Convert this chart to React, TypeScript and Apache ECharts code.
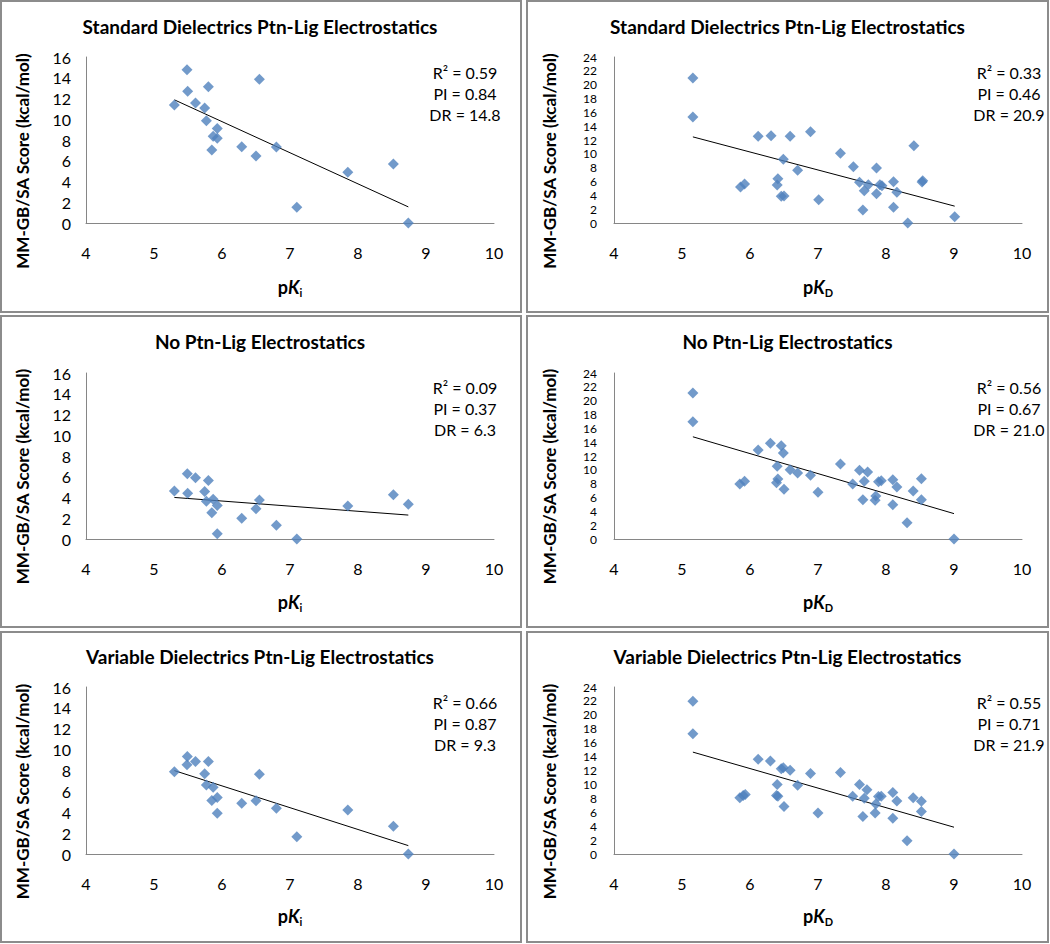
import React, { useEffect, useRef } from 'react';
import * as echarts from 'echarts';

const FONT = 'Lato, "Noto Sans", sans-serif';
const BLUE = '#4F81BD';

// Titles
const titles = [
  'Standard Dielectrics Ptn-Lig Electrostatics',
  'Standard Dielectrics Ptn-Lig Electrostatics',
  'No Ptn-Lig Electrostatics',
  'No Ptn-Lig Electrostatics',
  'Variable Dielectrics Ptn-Lig Electrostatics',
  'Variable Dielectrics Ptn-Lig Electrostatics',
];

// Statistics text per panel
const statsR2 = ['0.59', '0.33', '0.09', '0.56', '0.66', '0.55'];
const statsPI = ['0.84', '0.46', '0.37', '0.67', '0.87', '0.71'];
const statsDR = ['14.8', '20.9', '6.3', '21.0', '9.3', '21.9'];

// Axis ticks
const xTickMin = 4, xTickMax = 10, xTickStep = 1;
const yMaxKi = 16, yMaxKD = 24, yTickStep = 2;

// Panel 1: Standard dielectrics, pKi
const stdKiX = [5.30, 5.485, 5.495, 5.61, 5.80, 5.745, 5.77, 5.93, 5.87, 5.93, 5.85, 6.29, 6.50, 6.55, 6.80, 7.85, 8.52, 7.10, 8.74];
const stdKiY = [11.37, 14.78, 12.69, 11.57, 13.14, 11.08, 9.86, 9.12, 8.35, 8.16, 7.04, 7.36, 6.46, 13.85, 7.33, 4.88, 5.69, 1.51, 0];

// Panel 2: Standard dielectrics, pKD
const stdKdX = [5.16, 5.16, 5.86, 5.92, 6.12, 6.31, 6.40, 6.41, 6.49, 6.46, 6.50, 6.59, 6.70, 6.89, 7.01, 7.33, 7.52, 7.61, 7.68, 7.74, 7.66, 7.86, 7.86, 7.91, 7.94, 8.11, 8.11, 8.16, 8.32, 8.41, 8.53, 8.54, 9.01];
const stdKdY = [20.96, 15.33, 5.20, 5.64, 12.53, 12.63, 5.49, 6.41, 9.20, 3.86, 3.90, 12.53, 7.61, 13.20, 3.37, 10.07, 8.14, 5.88, 4.67, 5.54, 1.88, 7.95, 4.24, 5.54, 5.40, 5.98, 2.27, 4.43, 0, 11.18, 5.93, 6.12, 0.92];

// Panel 3: No electrostatics, pKi
const noKiX = [5.30, 5.49, 5.495, 5.61, 5.80, 5.745, 5.77, 5.87, 5.93, 5.85, 5.93, 6.29, 6.50, 6.55, 6.80, 7.10, 7.85, 8.52, 8.74];
const noKiY = [4.63, 6.30, 4.40, 5.91, 5.65, 4.59, 3.63, 3.82, 3.24, 2.54, 0.51, 1.99, 2.92, 3.76, 1.32, 0, 3.18, 4.27, 3.34];

// Panel 4: No electrostatics, pKD
const noKdX = [5.16, 5.16, 5.85, 5.92, 6.12, 6.30, 6.46, 6.49, 6.40, 6.41, 6.39, 6.50, 6.59, 6.70, 6.89, 7.00, 7.33, 7.51, 7.61, 7.68, 7.73, 7.66, 7.85, 7.84, 7.89, 7.93, 8.10, 8.16, 8.10, 8.31, 8.40, 8.52, 8.52, 9.00];
const noKdY = [21.11, 16.96, 7.95, 8.34, 12.87, 13.83, 13.49, 12.43, 10.51, 8.67, 8.14, 7.18, 10.02, 9.54, 9.20, 6.75, 10.84, 7.95, 9.93, 8.34, 9.69, 5.69, 6.22, 5.59, 8.29, 8.43, 8.58, 7.52, 4.96, 2.36, 6.94, 8.72, 5.69, 0];

// Panel 5: Variable dielectrics, pKi
const varKiX = [5.30, 5.49, 5.485, 5.61, 5.80, 5.745, 5.77, 5.87, 5.93, 5.85, 5.93, 6.29, 6.50, 6.55, 6.80, 7.10, 7.85, 8.52, 8.74];
const varKiY = [7.87, 9.34, 8.54, 8.86, 8.86, 7.68, 6.62, 6.40, 5.41, 5.12, 3.90, 4.86, 5.09, 7.65, 4.38, 1.66, 4.22, 2.66, 0];

// Panel 6: Variable dielectrics, pKD
const varKdX = [5.16, 5.16, 5.85, 5.90, 5.93, 6.12, 6.30, 6.46, 6.49, 6.59, 6.40, 6.39, 6.41, 6.50, 6.70, 6.89, 7.00, 7.33, 7.51, 7.61, 7.68, 7.72, 7.66, 7.85, 7.84, 7.89, 7.93, 8.10, 8.16, 8.10, 8.31, 8.40, 8.52, 8.52, 9.00];
const varKdY = [21.94, 17.28, 8.07, 8.40, 8.55, 13.63, 13.35, 12.24, 12.39, 12.05, 9.99, 8.40, 8.31, 6.82, 9.89, 11.57, 5.90, 11.71, 8.31, 9.99, 8.02, 9.22, 5.38, 7.20, 5.90, 8.26, 8.31, 8.83, 7.63, 5.14, 1.92, 8.07, 7.59, 6.10, 0];

const panelXs = [stdKiX, stdKdX, noKiX, noKdX, varKiX, varKdX];
const panelYs = [stdKiY, stdKdY, noKiY, noKdY, varKiY, varKdY];
const yMaxes = [yMaxKi, yMaxKD, yMaxKi, yMaxKD, yMaxKi, yMaxKD];
const subs = ['i', 'D', 'i', 'D', 'i', 'D'];

// Layout (pixels)
const colGridLeft = [86, 614];
const gridWidth = 408;
const rowGridTop = [57, 373, 687];
const rowGridHeight = [166, 166, 167];
const panelRectX = [1, 527];
const panelRectW = [520, 521];
const panelRectY = [1, 316, 632];
const panelRectH = [311, 311, 310];
const titleCX = [260, 787.5];
const titleCY = [26, 341, 656];
const yNameCX = [22, 549];
const yNameCY = [161, 476.5, 791.5];
const xNameCX = [290, 818];
const xNameCY = [286.5, 601.5, 916];
const statsCX = [465, 1009];
const statsCY = [93, 408.5, 723.5];

function fit(xs: number[], ys: number[]) {
  const n = xs.length;
  let sx = 0, sy = 0;
  for (let i = 0; i < n; i++) { sx += xs[i]; sy += ys[i]; }
  const mx = sx / n, my = sy / n;
  let sxy = 0, sxx = 0;
  for (let i = 0; i < n; i++) { sxy += (xs[i] - mx) * (ys[i] - my); sxx += (xs[i] - mx) ** 2; }
  const b = sxy / sxx;
  const a = my - b * mx;
  const x0 = Math.min(...xs), x1 = Math.max(...xs);
  return [[x0, a + b * x0], [x1, a + b * x1]];
}

export default function App() {
  const ref = useRef<HTMLDivElement>(null);
  useEffect(() => {
    if (!ref.current) return;
    const chart = echarts.init(ref.current, null, { renderer: 'svg' });
    const grid: any[] = [];
    const xAxis: any[] = [];
    const yAxis: any[] = [];
    const series: any[] = [];
    const graphic: any[] = [];
    for (let p = 0; p < 6; p++) {
      const col = p % 2;
      const row = Math.floor(p / 2);
      grid.push({ left: colGridLeft[col], top: rowGridTop[row], width: gridWidth, height: rowGridHeight[row] });
      xAxis.push({
        type: 'value', gridIndex: p, min: xTickMin, max: xTickMax, interval: xTickStep,
        splitLine: { show: false }, axisTick: { show: false },
        axisLine: { show: true, onZero: false, lineStyle: { color: '#868686', width: 1 } },
        axisLabel: { color: '#000', fontFamily: FONT, fontSize: 16, margin: 21 },
      });
      yAxis.push({
        type: 'value', gridIndex: p, min: 0, max: yMaxes[p], interval: yTickStep,
        splitLine: { show: false }, axisTick: { show: false },
        axisLine: { show: true, onZero: false, lineStyle: { color: '#868686', width: 1 } },
        axisLabel: col === 0
          ? { color: '#000', fontFamily: FONT, fontSize: 16, margin: 15 }
          : { color: '#000', fontFamily: FONT, fontSize: 12, lineHeight: 12, margin: 17 },
      });
      const xs = panelXs[p], ys = panelYs[p];
      series.push({
        type: 'scatter', xAxisIndex: p, yAxisIndex: p, symbol: 'diamond', symbolSize: 11,
        itemStyle: { color: BLUE }, data: xs.map((x, i) => [x, ys[i]]), z: 3,
      });
      series.push({
        type: 'line', xAxisIndex: p, yAxisIndex: p, symbol: 'none', silent: true,
        lineStyle: { color: '#000', width: 1 }, data: fit(xs, ys), z: 2,
      });
      graphic.push({
        type: 'rect', shape: { x: panelRectX[col], y: panelRectY[row], width: panelRectW[col], height: panelRectH[row] },
        style: { fill: 'none', stroke: '#8c8c8c', lineWidth: 2 }, silent: true,
      });
      graphic.push({
        type: 'text', x: titleCX[col], y: titleCY[row],
        style: { text: titles[p], fontFamily: FONT, fontWeight: 'bold', fontSize: 19, fill: '#000', align: 'center', verticalAlign: 'middle' },
      });
      graphic.push({
        type: 'text', x: yNameCX[col], y: yNameCY[row], rotation: Math.PI / 2,
        style: { text: 'MM-GB/SA Score (kcal/mol)', fontFamily: FONT, fontWeight: 'bold', fontSize: 17, fill: '#000', align: 'center', verticalAlign: 'middle' },
      });
      graphic.push({
        type: 'text', x: xNameCX[col], y: xNameCY[row],
        style: {
          text: '{p|p}{k|K}{s|' + subs[p] + '}', align: 'center', verticalAlign: 'middle',
          rich: {
            p: { fontFamily: FONT, fontWeight: 'bold', fontSize: 18, fill: '#000', lineHeight: 22 },
            k: { fontFamily: FONT, fontWeight: 'bold', fontStyle: 'italic', fontSize: 18, fill: '#000', lineHeight: 22 },
            s: { fontFamily: FONT, fontWeight: 'bold', fontSize: 11, fill: '#000', lineHeight: 11, verticalAlign: 'bottom' },
          },
        },
      });
      graphic.push({
        type: 'text', x: statsCX[col], y: statsCY[row],
        style: {
          text: 'R\u00B2 = ' + statsR2[p] + '\nPI = ' + statsPI[p] + '\nDR = ' + statsDR[p],
          fontFamily: FONT, fontSize: 16, lineHeight: 21, fill: '#000', align: 'center', verticalAlign: 'middle',
        },
      });
    }
    chart.setOption({
      animation: false,
      backgroundColor: '#fff',
      grid, xAxis, yAxis, series, graphic,
    });
    return () => chart.dispose();
  }, []);
  return <div ref={ref} style={{ position: 'absolute', left: 0, top: 0, width: 1050, height: 944 }} />;
}
